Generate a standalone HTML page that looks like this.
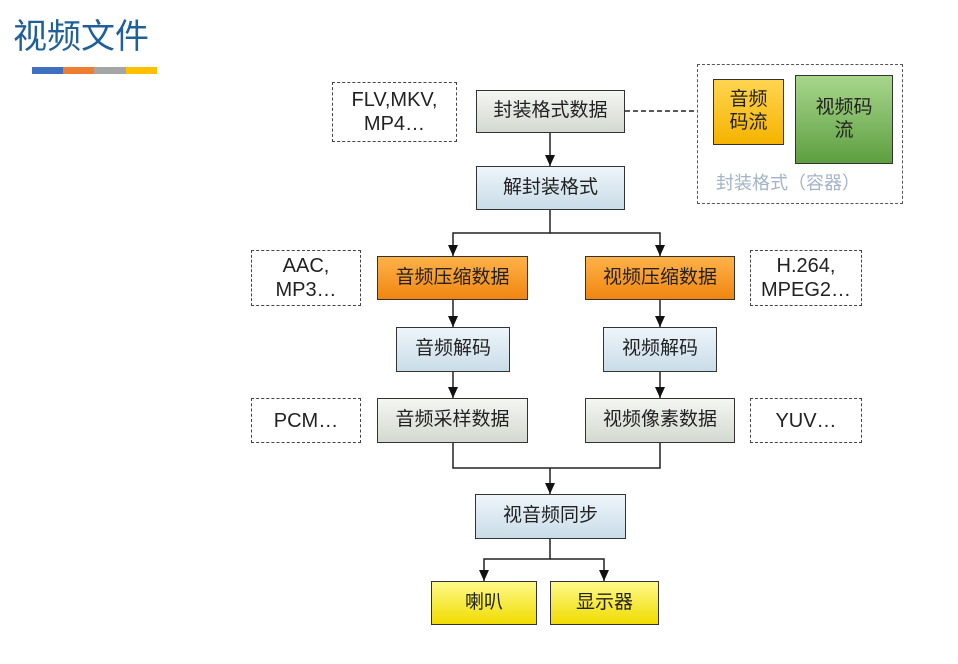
<!DOCTYPE html>
<html><head><meta charset="utf-8"><style>
body{margin:0;width:958px;height:664px;background:#fff;position:relative;overflow:hidden;font-family:"Liberation Sans","Noto Sans CJK SC",sans-serif;}
.b{position:absolute;box-sizing:border-box;border:1.5px solid #333;display:flex;align-items:center;justify-content:center;text-align:center;font-size:19px;color:#222;line-height:1.2;}
.g{background:linear-gradient(#f4f6f2,#d3d9d0);}
.bl{background:linear-gradient(#eef5fa,#c9dce8);}
.o{background:linear-gradient(#ffb24a,#f08610);}
.y{background:linear-gradient(#fff98a,#f0dc00);}
.d{position:absolute;box-sizing:border-box;border:1.5px dashed #444;display:flex;align-items:center;justify-content:center;text-align:center;font-size:20px;color:#222;line-height:1.2;}
</style></head><body>
<div style="position:absolute;left:13px;top:9px;font-size:34px;color:#1f5f9a;font-family:'Noto Sans CJK SC',sans-serif;">视频文件</div>
<div style="position:absolute;left:32px;top:67px;width:31px;height:7px;background:#3f6fbf"></div>
<div style="position:absolute;left:63px;top:67px;width:31px;height:7px;background:#ed7d31"></div>
<div style="position:absolute;left:94px;top:67px;width:32px;height:7px;background:#a5a5a5"></div>
<div style="position:absolute;left:126px;top:67px;width:31px;height:7px;background:#ffc000"></div>

<svg style="position:absolute;left:0;top:0" width="958" height="664">
<defs><marker id="a" markerWidth="12" markerHeight="12" refX="11" refY="5" orient="auto" markerUnits="userSpaceOnUse"><path d="M0,0 L11,5 L0,10 z" fill="#111"/></marker></defs>
<g stroke="#222" stroke-width="1.5" fill="none">
<line x1="625" y1="111" x2="697" y2="111" stroke-dasharray="5,3"/>
<line x1="550" y1="133" x2="550" y2="166" marker-end="url(#a)"/>
<polyline points="550,210 550,233 453,233 453,256" marker-end="url(#a)"/>
<polyline points="550,233 660,233 660,256" marker-end="url(#a)"/>
<line x1="453" y1="300" x2="453" y2="327" marker-end="url(#a)"/>
<line x1="660" y1="300" x2="660" y2="327" marker-end="url(#a)"/>
<line x1="453" y1="372" x2="453" y2="398" marker-end="url(#a)"/>
<line x1="660" y1="372" x2="660" y2="398" marker-end="url(#a)"/>
<polyline points="453,443 453,468 660,468 660,443"/>
<line x1="550" y1="468" x2="550" y2="494" marker-end="url(#a)"/>
<polyline points="550,539 550,559 484,559 484,581" marker-end="url(#a)"/>
<polyline points="550,559 604,559 604,581" marker-end="url(#a)"/>
</g></svg>

<div class="d" style="left:332px;top:82px;width:125px;height:60px">FLV,MKV,<br>MP4…</div>
<div class="b g" style="left:476px;top:90px;width:149px;height:43px">封装格式数据</div>
<div class="b bl" style="left:476px;top:166px;width:149px;height:44px">解封装格式</div>

<div class="d" style="left:697px;top:64px;width:206px;height:140px;border-color:#555"></div>
<div class="b" style="left:713px;top:79px;width:71px;height:66px;background:linear-gradient(#ffd550,#f5b300);border-width:1px">音频<br>码流</div>
<div class="b" style="left:795px;top:75px;width:98px;height:89px;background:linear-gradient(#a8d68c,#5d9f40);border-width:1px">视频码<br>流</div>
<div style="position:absolute;left:716px;top:169px;font-size:18px;color:#a3b3c9">封装格式（容器）</div>

<div class="d" style="left:251px;top:250px;width:110px;height:56px">AAC,<br>MP3…</div>
<div class="b o" style="left:377px;top:256px;width:151px;height:44px">音频压缩数据</div>
<div class="b o" style="left:585px;top:256px;width:150px;height:44px">视频压缩数据</div>
<div class="d" style="left:750px;top:250px;width:112px;height:56px">H.264,<br>MPEG2…</div>

<div class="b bl" style="left:396px;top:327px;width:114px;height:45px">音频解码</div>
<div class="b bl" style="left:603px;top:327px;width:114px;height:45px">视频解码</div>

<div class="d" style="left:251px;top:398px;width:110px;height:45px">PCM…</div>
<div class="b g" style="left:377px;top:398px;width:151px;height:45px">音频采样数据</div>
<div class="b g" style="left:585px;top:398px;width:150px;height:45px">视频像素数据</div>
<div class="d" style="left:750px;top:398px;width:112px;height:45px">YUV…</div>

<div class="b bl" style="left:475px;top:494px;width:151px;height:45px">视音频同步</div>
<div class="b y" style="left:431px;top:581px;width:106px;height:44px">喇叭</div>
<div class="b y" style="left:550px;top:581px;width:109px;height:44px">显示器</div>
</body></html>
